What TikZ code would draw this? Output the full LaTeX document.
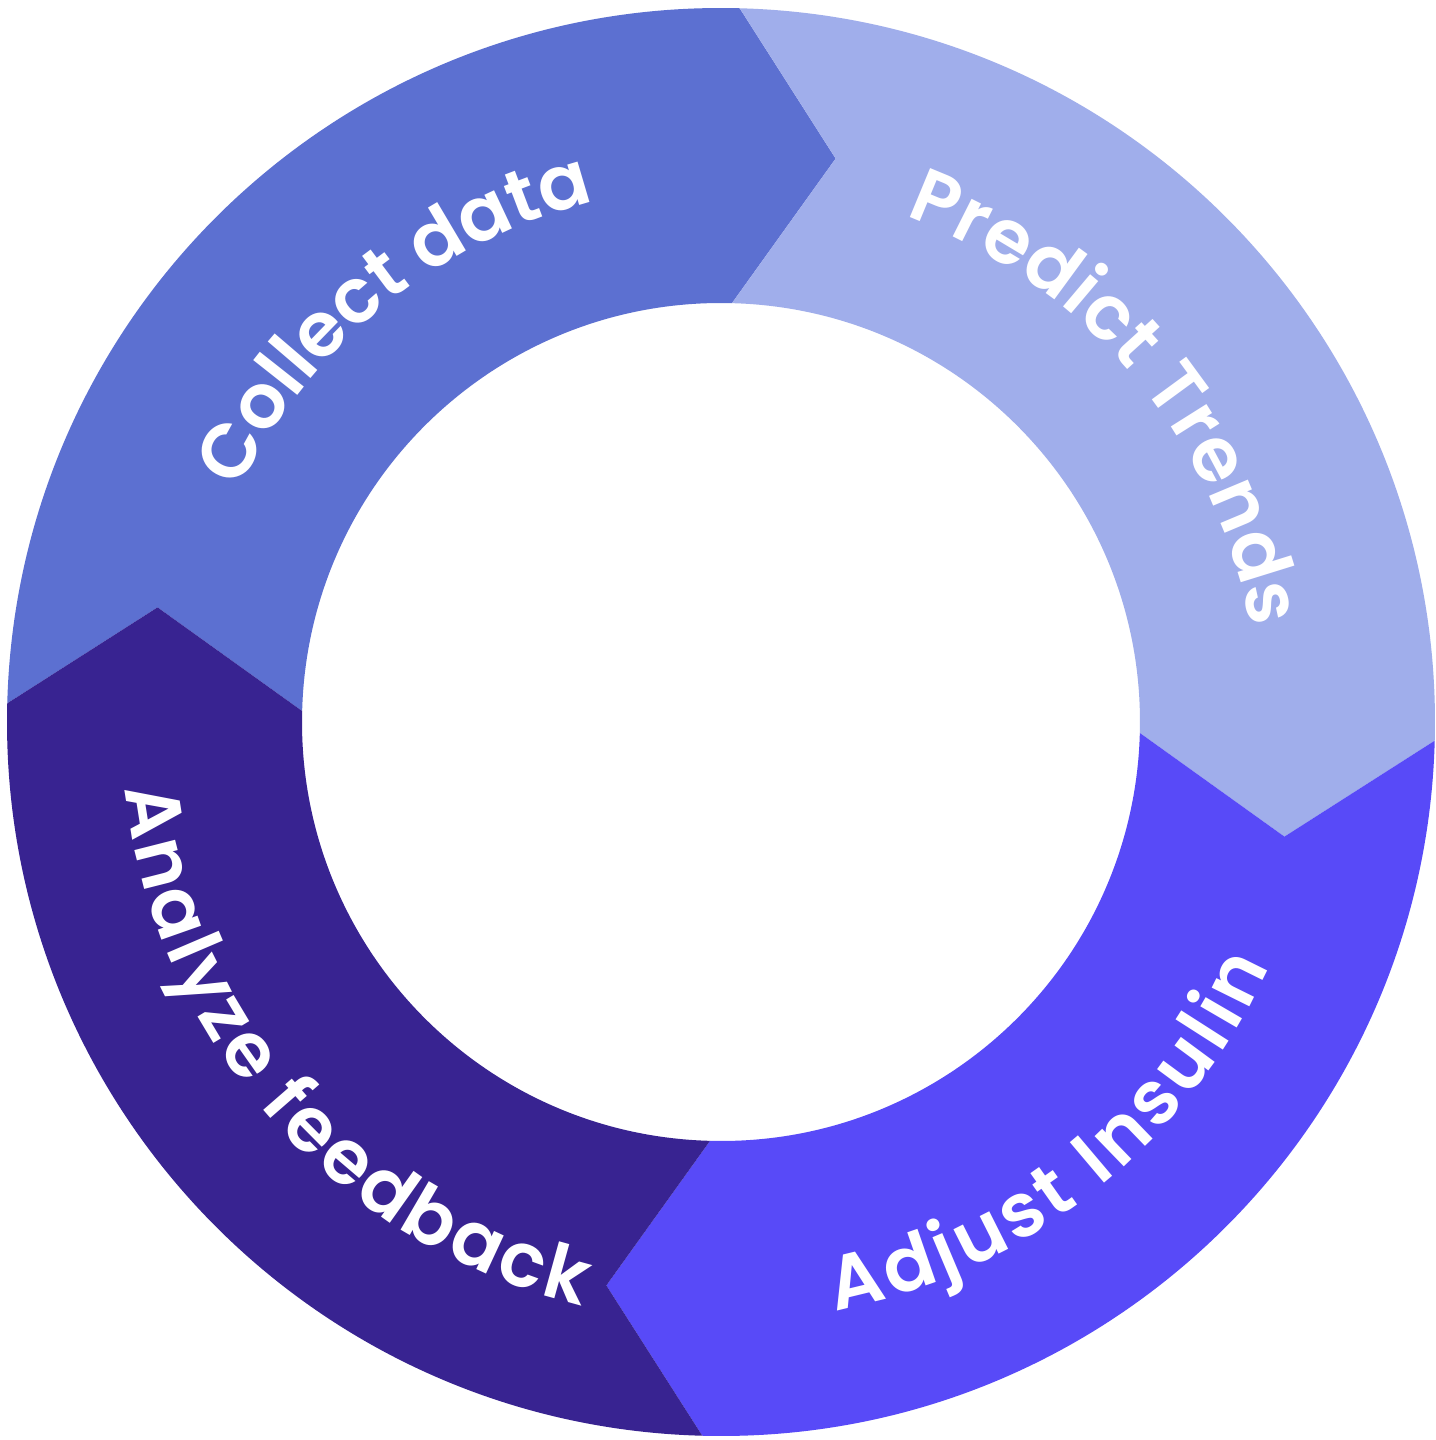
\documentclass[tikz,border=0pt]{standalone}
\usepackage{fontspec}
\newfontfamily\popfont{Poppins}[UprightFont=* SemiBold]
\usetikzlibrary{decorations.text}
\definecolor{cCollect}{HTML}{5C70D1}
\definecolor{cPredict}{HTML}{A0AEEB}
\definecolor{cAdjust}{HTML}{584AF8}
\definecolor{cAnalyze}{HTML}{382391}
\newcommand\lblfont{\popfont\fontsize{21.6}{26}\selectfont}
\tikzset{
  ringtext/.style 2 args={decorate, decoration={text effects along path, text={#1},
      text align=center, text effects/.cd, text along path,
      character widths={font=\lblfont, inner xsep=#2, inner ysep=0pt},
      characters={text=white, font=\lblfont, inner xsep=#2, inner ysep=0pt, anchor=base}}}
}
% segment between boundary angles #1 (start) and #2 (end)
\newcommand\ringseg[3]{%
  \fill[#3] (#1:7.14) arc[start angle=#1, end angle=#2, radius=7.14]
    -- (#2-10:5.75) -- (#2:4.19) arc[start angle=#2, end angle=#1, radius=4.19]
    -- (#1-10:5.75) -- cycle;}
\begin{document}
\begin{tikzpicture}
\useasboundingbox (-7.21,-7.18) rectangle (7.15,7.22);
\fill[white] (-7.21,-7.18) rectangle (7.15,7.22);
\ringseg{178.5}{88.5}{cCollect}
\ringseg{88.5}{-1.5}{cPredict}
\ringseg{-1.5}{-91.5}{cAdjust}
\ringseg{268.5}{178.5}{cAnalyze}
\path[ringtext={Collect data}{0pt}] (174:5.35) arc[start angle=174, end angle=84, radius=5.35];
\path[ringtext={Predict Trends}{0.1pt}] (85:5.38) arc[start angle=85, end angle=-5, radius=5.38];
\path[ringtext={Adjust Insulin}{0.6pt}] (-97:6.00) arc[start angle=-97, end angle=-6, radius=6.00];
\path[ringtext={Analyze feedback}{0.45pt}] (176:6.00) arc[start angle=176, end angle=267, radius=6.00];
\end{tikzpicture}
\end{document}
